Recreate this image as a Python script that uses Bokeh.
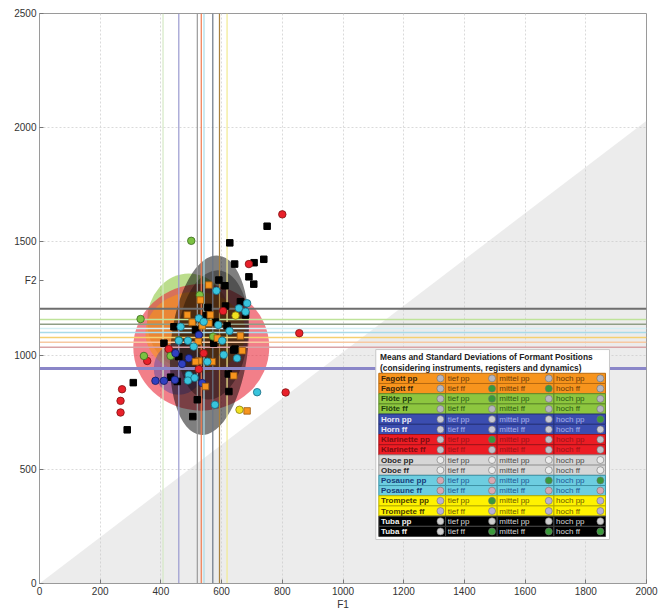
from bokeh.plotting import figure
from bokeh.models import ColumnDataSource, Range1d, FixedTicker
from bokeh.core.properties import value
from bokeh.embed import file_html
from bokeh.resources import INLINE

# ---------------- data ----------------
# single measurements (F1, F2) per instrument
tuba_f1 = [750, 627, 739, 707, 643, 690, 706, 591, 611, 555, 613, 662, 550, 443, 618, 410, 574, 644,
           459, 309, 432, 454, 622, 624, 520, 505, 289, 640, 514, 580, 679]
tuba_f2 = [1567, 1494, 1422, 1407, 1401, 1345, 1313, 1331, 1306, 1211, 1217, 1236, 1175, 1126, 1130,
           1054, 1054, 1028, 995, 881, 905, 886, 919, 842, 806, 732, 674, 1024, 1112, 1147, 1178]
klar_f1 = [800, 690, 856, 811, 272, 267, 267, 355, 605, 426, 541, 525]
klar_f2 = [1619, 1401, 1098, 838, 852, 801, 750, 976, 1195, 1028, 1010, 940]
floete_f1 = [500, 333, 344, 528, 459, 572, 432]
floete_f2 = [1503, 1160, 998, 1265, 1068, 1083, 998]
horn_f1 = [382, 410, 536, 525, 448, 470, 492, 446]
horn_f2 = [889, 889, 879, 1090, 1010, 963, 988, 893]
fagott_f1 = [558, 530, 563, 487, 558, 536, 503, 662, 586, 668, 525, 569, 547, 640, 684, 523, 514]
fagott_f2 = [1309, 1243, 1178, 1178, 1141, 1130, 1146, 1086, 1076, 1021, 976, 973, 864, 911, 757, 1061, 973]
posaune_f1 = [583, 657, 684, 679, 525, 541, 465, 589, 626, 602, 508, 607, 651, 553, 492, 489, 511,
              578, 717, 459, 489]
posaune_f2 = [1284, 1207, 1229, 1192, 1163, 1148, 1126, 1134, 1108, 1065, 1039, 1003, 988, 973, 915,
              890, 902, 784, 839, 1065, 1065]
trompete_f1 = [646, 659]
trompete_f2 = [1175, 762]

# standard-deviation ellipses: centre, full width (F1), full height (F2), tilt
ell_name = ["Flöte", "Klarinette", "Fagott", "Horn", "Tuba", "Tuba inner"]
ell_f1 = [492, 533, 514, 459, 560, 572]
ell_f2 = [1150, 1036, 1100, 943, 1045, 1090]
ell_w = [275, 448, 330, 165, 255, 231]
ell_h = [420, 556, 360, 230, 790, 569]
ell_angle = [0, 0, 0, 0, -0.1, -0.1]
ell_color = ["#8dc63f", "#ea2a3a", "#f7941d", "#2c3cb0", "#000000", "#000000"]
ell_alpha = [0.6, 0.6, 0.6, 0.4, 0.5, 0.35]

# mean lines
vline_f1 = [407, 459, 520, 533, 542, 571, 593, 618]
vline_color = ["#d4e8c4", "#9a9ad0", "#9a9a9a", "#f27a4e", "#a8dce8", "#6a7686", "#a8803e", "#f2ea90"]
hline_f2 = [1205, 1158, 1137, 1118, 1101, 1079, 1058, 1036, 943]
hline_color = ["#6e6e6e", "#bfe39a", "#8f9e86", "#d3eef4", "#a9dbe9", "#f5d070", "#f7c9a2", "#d9a3a6", "#8a86c8"]
hline_width = [2, 1.5, 1.5, 1.5, 1.5, 1.5, 1.5, 1.5, 3]

x_ticks = [0, 200, 400, 600, 800, 1000, 1200, 1400, 1600, 1800, 2000]
y_ticks = [0, 500, 1000, 1500, 2000, 2500]
y_label_pos = 1330   # where the horizontal "F2" label sits on the y axis

# legend table
leg_title1 = "Means and Standard Deviations of Formant Positions"
leg_title2 = "(considering instruments, registers and dynamics)"
instruments = ["Fagott", "Flöte", "Horn", "Klarinette", "Oboe", "Posaune", "Trompete", "Tuba"]
dynamics = ["pp", "ff"]
registers = ["tief", "mittel", "hoch"]
inst_fill = ["#f7941d", "#8dc63f", "#3b4db0", "#ec1c24", "#d6d6d6", "#6dcde0", "#fff200", "#000000"]
inst_edge = ["#b86a10", "#5e8a2a", "#26337a", "#a01218", "#9a9a9a", "#3e94a6", "#b8ae00", "#444444"]
inst_label_color = ["#3a2408", "#1c3e0c", "#e8e8f4", "#7a0c10", "#2a2a2a", "#163e7a", "#4a3e00", "#f0f0f0"]
inst_cell_color = ["#6a3a08", "#2a5a14", "#a8aee6", "#9a1418", "#4a4a4a", "#1e5896", "#6a5a00", "#d8d8d8"]
inst_icon = ["#b6b6c0", "#b6b6c0", "#c8c8d4", "#c0c0c8", "#ececec", "#d8a8b2", "#b8b0d8", "#cfcfcf"]
green_icons = [(1, 1), (1, 2), (2, 1), (4, 3), (6, 1), (10, 2), (10, 3), (12, 1), (15, 1), (15, 2), (15, 3)]

# ---------------- figure ----------------
FONT = "Liberation Sans"
p = figure(width=658, height=612, output_backend="svg", toolbar_location=None,
           x_range=Range1d(0, 2000), y_range=Range1d(0, 2500),
           min_border_left=39, min_border_right=12, min_border_top=13, min_border_bottom=28)
p.background_fill_color = "white"
p.border_fill_color = "white"
p.outline_line_color = "#9a9a9a"

p.xaxis.ticker = FixedTicker(ticks=x_ticks)
p.yaxis.ticker = FixedTicker(ticks=sorted(y_ticks + [y_label_pos]))
p.yaxis.major_label_overrides = {y_label_pos: "F2"}
p.xgrid.ticker = FixedTicker(ticks=x_ticks)
p.ygrid.ticker = FixedTicker(ticks=y_ticks)
for ax in (p.xaxis, p.yaxis):
    ax.axis_line_color = "#9a9a9a"
    ax.major_tick_line_color = "#777777"
    ax.major_tick_in = 4
    ax.major_tick_out = 0
    ax.minor_tick_line_color = None
    ax.major_label_text_font = FONT
    ax.major_label_text_font_size = "10px"
    ax.major_label_text_color = "#333333"
    ax.major_label_standoff = 3
p.xaxis.axis_label = "F1"
p.xaxis.axis_label_standoff = 1
p.xaxis.axis_label_text_font = FONT
p.xaxis.axis_label_text_font_size = "10px"
p.xaxis.axis_label_text_font_style = "normal"
p.xaxis.axis_label_text_color = "#333333"

p.grid.grid_line_color = "#dadada"
p.grid.grid_line_dash = "2 2"

# impossible region F2 < F1
x0, x1 = p.x_range.start, p.x_range.end
p.patch([x0, x1, x1], [x0, x0, x1 * 1.015], fill_color="#c8c8c8", fill_alpha=0.35, line_color=None)

# ellipses
esrc = ColumnDataSource(dict(x=ell_f1, y=ell_f2, w=ell_w, h=ell_h, a=ell_angle, c=ell_color, al=ell_alpha))
p.ellipse(x="x", y="y", width="w", height="h", angle="a", fill_color="c", fill_alpha="al",
          line_color=None, source=esrc)

# mean lines
ys, ye = p.y_range.start, p.y_range.end
p.segment(x0=vline_f1, y0=[ys] * len(vline_f1), x1=vline_f1, y1=[ye] * len(vline_f1),
          line_color=vline_color, line_width=1.2)
p.segment(x0=[x0] * len(hline_f2), y0=hline_f2, x1=[x1] * len(hline_f2), y1=hline_f2,
          line_color=hline_color, line_width=hline_width)

# points
p.scatter(tuba_f1, tuba_f2, marker="square", size=6.5, fill_color="#000000", line_color="#000000")
p.scatter(klar_f1, klar_f2, marker="circle", size=7.5, fill_color="#e8202a", line_color="#801010", line_width=0.8)
p.scatter(floete_f1, floete_f2, marker="circle", size=7.5, fill_color="#7cc242", line_color="#3a6a20", line_width=0.8)
p.scatter(horn_f1, horn_f2, marker="circle", size=7.5, fill_color="#3040c0", line_color="#101a60", line_width=0.8)
p.scatter(fagott_f1, fagott_f2, marker="square", size=6.5, fill_color="#f7941d", line_color="#9a5a10", line_width=0.8)
p.scatter(posaune_f1, posaune_f2, marker="circle", size=7.5, fill_color="#38c4dc", line_color="#1a6a80", line_width=0.8)
p.scatter(trompete_f1, trompete_f2, marker="circle", size=7.5, fill_color="#f0e020", line_color="#8a8010", line_width=0.8)

# ---------------- legend table (drawn in data space) ----------------
col_edges = [1118, 1338, 1508, 1695, 1865]
row_top = 922
row_h = 44.75
icon_off = 17
text_off = 7

p.quad(left=[1108], right=[1878], top=[1026], bottom=[193], fill_color="white",
       line_color="#c8c8c8", line_width=1)
p.text(x=[col_edges[0] + 4, col_edges[0] + 4], y=[995, 947], text=[leg_title1, leg_title2],
       text_font=value(FONT), text_font_size="8.4px", text_font_style="bold",
       text_color="#222222", text_baseline="middle")

cl, cr, ct, cb, cf, ce = [], [], [], [], [], []
ix, iy, ic = [], [], []
row_text = []   # per instrument: (label xs, ys, texts), (cell xs, ys, texts)
r = 0
for k, inst in enumerate(instruments):
    lab = ([], [], [])
    cel = ([], [], [])
    for dyn in dynamics:
        top = row_top - r * row_h
        mid = top - row_h / 2
        for c in range(4):
            cl.append(col_edges[c]); cr.append(col_edges[c + 1])
            ct.append(top); cb.append(top - row_h)
            cf.append(inst_fill[k]); ce.append(inst_edge[k])
            tgt = lab if c == 0 else cel
            tgt[0].append(col_edges[c] + text_off)
            tgt[1].append(mid)
            tgt[2].append(f"{inst} {dyn}" if c == 0 else f"{registers[c - 1]} {dyn}")
            ix.append(col_edges[c + 1] - icon_off); iy.append(mid)
            ic.append("#3a9a3a" if (r, c) in green_icons else inst_icon[k])
        r += 1
    row_text.append((lab, cel))

p.quad(left=cl, right=cr, top=ct, bottom=cb, fill_color=cf, line_color=ce, line_width=1)
for k, (lab, cel) in enumerate(row_text):
    p.text(x=lab[0], y=lab[1], text=lab[2], text_color=inst_label_color[k], text_font_style="bold",
           text_font=value(FONT), text_font_size="8px", text_baseline="middle")
    p.text(x=cel[0], y=cel[1], text=cel[2], text_color=inst_cell_color[k], text_font_style="normal",
           text_font=value(FONT), text_font_size="8px", text_baseline="middle")
p.scatter(ix, iy, marker="circle", size=7, fill_color=ic, line_color="#707070", line_width=0.6)

open("out.html", "w").write(file_html(p, INLINE))
